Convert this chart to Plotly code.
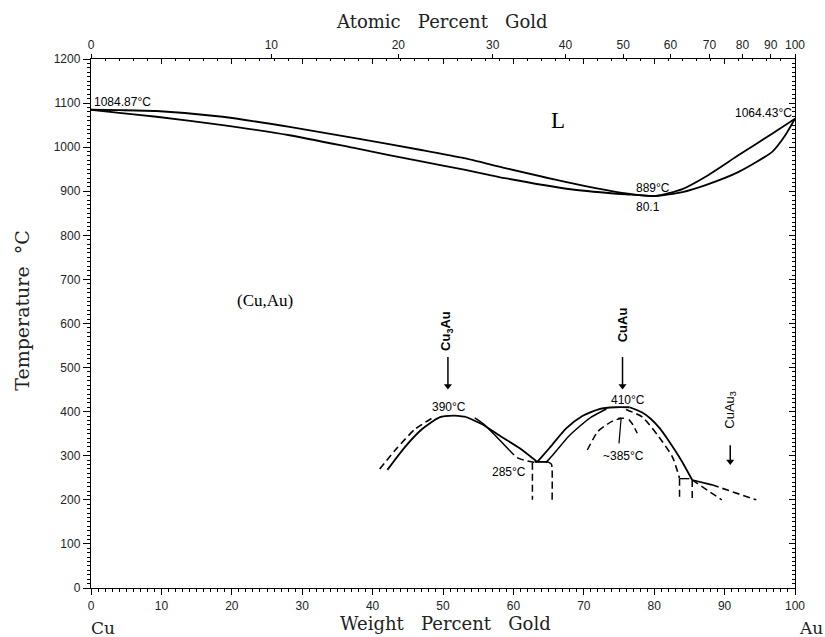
import plotly.graph_objects as go

# ---------------- data (weight % Au, temperature °C) ----------------
liq_x = [0, 4, 9.3, 18.7, 28.2, 37.7, 47.1, 53, 59, 68.4, 76, 80.1, 84, 87.3, 92, 96.8, 100]
liq_T = [1084.87, 1084, 1082, 1069, 1046, 1020, 993, 975, 952, 918, 895, 889, 905, 933, 982, 1031, 1064.43]
sol_x = [0, 4, 9.3, 18.7, 28.2, 37.7, 47.1, 53, 59, 68.4, 76, 80.1, 84, 87.3, 92, 96.8, 98.5, 100]
sol_T = [1084.87, 1078, 1069, 1050, 1027, 997, 967, 949, 929, 904, 893, 889, 898, 914, 944, 990, 1024, 1064.43]

# Cu3Au ordering dome
c3_left_x = [42.1, 44.5, 47, 49.5, 51.5, 53.3]
c3_left_T = [268, 318, 360, 387, 391, 388]
c3_left_dash_x = [41, 43.5, 46, 48.5]
c3_left_dash_T = [270, 318, 360, 386]
c3_right_x = [53.3, 55.5, 58.4, 60.9, 63.4]
c3_right_T = [388, 372, 342, 317, 286]
c3_inner_x = [54.5, 55.6, 57.5, 59.4]
c3_inner_T = [386, 374, 345, 313]
c3_inner_dash_x = [59.4, 60.5, 62, 63.3]
c3_inner_dash_T = [313, 296, 288, 284]

# 285 °C peritectoid box
box_top_x = [63.0, 64.9]
box_top_T = [286, 286]
box_left_x = [62.7, 62.7]
box_left_T = [284, 200]
box_right_x = [64.9, 65.4, 65.5, 65.5]
box_right_T = [286, 281, 270, 200]

# CuAu ordering dome
cuau_outer_x = [63.4, 65.1, 67.5, 69.8, 72.2, 74.5, 76.5]
cuau_outer_T = [286, 317, 362, 390, 406, 410, 410]
cuau_inner_x = [64.6, 65.5, 67.9, 70.8, 73.2]
cuau_inner_T = [284, 300, 345, 385, 406]
cuau_right_x = [76.5, 78.3, 79.5, 80.8, 82.1, 83.8, 85.4]
cuau_right_T = [410, 398, 384, 362, 333, 291, 245]
cuau_right_dash_x = [76, 78.3, 80.7, 82.6, 83.6]
cuau_right_dash_T = [405, 388, 342, 297, 249]

# ~385 °C inner dome
in_left_x = [70.5, 72, 74, 75.3]
in_left_T = [313, 355, 378, 385]
in_right_x = [76.4, 76.9, 77.6]
in_right_T = [382, 372, 351]
in_mark_x = [74.9, 75.7]
in_mark_T = [385, 385]
in_ptr_x = [75.0, 75.3]
in_ptr_T = [328, 385]

# CuAu3 side
tail_solid_x = [85.4, 88.2]
tail_solid_T = [245, 234]
tail_dash1_x = [88.2, 94.5]
tail_dash1_T = [234, 200]
tail_dash2_x = [85.4, 89.6]
tail_dash2_T = [245, 200]
vline1_x = [83.6, 83.6]
vline1_T = [248, 200]
vcap_x = [83.6, 85.0]
vcap_T = [248, 248]
vline2_x = [85.4, 85.4]
vline2_T = [245, 200]

# phase arrows (x, tail T, head T)
arrow_x = [50.7, 75.5, 90.8]
arrow_tail = [524, 524, 324]
arrow_head = [458, 458, 287]

# axis ticks
wt_ticks = list(range(0, 101, 10))
at_ticks = list(range(0, 101, 10))
T_ticks = list(range(0, 1201, 100))
M_AU, M_CU = 196.97, 63.546
at_pos = [a * M_AU / (a * M_AU + (100 - a) * M_CU) * 100 for a in at_ticks]

fig = go.Figure()
DASH = "7px,4px"

def line(x, y, dash="solid", w=1.8, shape="spline"):
    fig.add_trace(go.Scatter(x=x, y=y, mode="lines",
                             line=dict(color="black", width=w, dash=dash, shape=shape, smoothing=0.6),
                             hoverinfo="skip", showlegend=False))

line(liq_x, liq_T)
line(sol_x, sol_T)
line(c3_left_x, c3_left_T)
line(c3_left_dash_x, c3_left_dash_T, DASH, 1.6)
line(c3_right_x, c3_right_T)
line(c3_inner_x, c3_inner_T, w=1.5)
line(c3_inner_dash_x, c3_inner_dash_T, DASH, 1.5)
line(box_top_x, box_top_T, shape="linear")
line(box_left_x, box_left_T, DASH, 1.5, "linear")
line(box_right_x, box_right_T, DASH, 1.5)
line(cuau_outer_x, cuau_outer_T)
line(cuau_inner_x, cuau_inner_T, w=1.5)
line(cuau_right_x, cuau_right_T)
line(cuau_right_dash_x, cuau_right_dash_T, DASH, 1.6)
line(in_left_x, in_left_T, DASH, 1.5)
line(in_right_x, in_right_T, DASH, 1.5)
line(in_mark_x, in_mark_T, w=1.5, shape="linear")
line(in_ptr_x, in_ptr_T, w=1.2, shape="linear")
line(tail_solid_x, tail_solid_T, shape="linear")
line(tail_dash1_x, tail_dash1_T, DASH, 1.6, "linear")
line(tail_dash2_x, tail_dash2_T, DASH, 1.5, "linear")
line(vline1_x, vline1_T, DASH, 1.5, "linear")
line(vcap_x, vcap_T, w=1.3, shape="linear")
line(vline2_x, vline2_T, DASH, 1.5, "linear")

# arrows drawn as line + triangle marker
for xa, t0, t1 in zip(arrow_x, arrow_tail, arrow_head):
    fig.add_trace(go.Scatter(x=[xa, xa], y=[t0, t1], mode="lines", line=dict(color="black", width=1.5),
                             hoverinfo="skip", showlegend=False))
fig.add_trace(go.Scatter(x=arrow_x, y=arrow_head, mode="markers",
                         marker=dict(symbol="triangle-down", size=7, color="black"),
                         hoverinfo="skip", showlegend=False))

# placeholder traces so the overlay axes (top atomic %, inner top/right ticks) are drawn
fig.add_trace(go.Scatter(x=[None], y=[None], xaxis="x2", showlegend=False, hoverinfo="skip"))
fig.add_trace(go.Scatter(x=[None], y=[None], xaxis="x3", showlegend=False, hoverinfo="skip"))
fig.add_trace(go.Scatter(x=[None], y=[None], yaxis="y2", showlegend=False, hoverinfo="skip"))

lab = dict(family="Liberation Sans", size=12, color="black")
ann = []
def txt(x, y, t, font=lab, xanchor="center", angle=0):
    ann.append(dict(x=x, y=y, xref="x", yref="y", text=t, showarrow=False, font=font,
                    xanchor=xanchor, yanchor="middle", textangle=angle))

txt(0.2, 1102, "1084.87°C", xanchor="left")
txt(99.8, 1078, "1064.43°C", xanchor="right")
txt(79.8, 908, "889°C")
txt(79.1, 865, "80.1")
txt(66.3, 1060, "L", font=dict(family="Liberation Serif", size=23, color="black"))
txt(24.7, 653, "(Cu,Au)", font=dict(family="Liberation Serif", size=17, color="black"))
txt(50.8, 411, "390°C")
txt(76.3, 426, "410°C")
txt(59.4, 263, "285°C")
txt(75.6, 299, "~385°C")
txt(50.5, 582, "<b>Cu<sub>3</sub>Au</b>", font=dict(family="Liberation Sans", size=13, color="black"), angle=-90)
txt(75.5, 597, "<b>CuAu</b>", font=dict(family="Liberation Sans", size=13, color="black"), angle=-90)
txt(90.8, 405, "CuAu<sub>3</sub>", font=dict(family="Liberation Sans", size=13, color="black"), angle=-90)

titlef = dict(family="DejaVu Serif", size=18, color="#222")
ann.append(dict(x=0.499, y=1.07, xref="paper", yref="paper", text="Atomic   Percent   Gold", showarrow=False,
                font=titlef, xanchor="center", yanchor="middle"))
ann.append(dict(x=0.503, y=-0.068, xref="paper", yref="paper", text="Weight   Percent   Gold", showarrow=False,
                font=titlef, xanchor="center", yanchor="middle"))
ann.append(dict(x=-0.098, y=0.524, xref="paper", yref="paper", text="Temperature  °C", showarrow=False,
                font=dict(family="DejaVu Serif", size=19, color="#222"), xanchor="center", yanchor="middle",
                textangle=-90))
ann.append(dict(x=0.017, y=-0.076, xref="paper", yref="paper", text="Cu", showarrow=False,
                font=dict(family="DejaVu Serif", size=17, color="#222"), xanchor="center", yanchor="middle"))
ann.append(dict(x=1.023, y=-0.076, xref="paper", yref="paper", text="Au", showarrow=False,
                font=dict(family="DejaVu Serif", size=17, color="#222"), xanchor="center", yanchor="middle"))

tickf = dict(family="Liberation Sans", size=12, color="#222")
fig.update_layout(
    width=825, height=637,
    margin=dict(l=91, r=30, t=59, b=49),
    paper_bgcolor="white", plot_bgcolor="white",
    showlegend=False,
    annotations=ann,
    xaxis=dict(range=[0, 100], tickvals=wt_ticks, ticktext=[str(v) for v in wt_ticks],
               ticks="outside", ticklen=6, tickwidth=1.2, tickcolor="black",
               minor=dict(dtick=1, ticks="outside", ticklen=3, tickcolor="black", tickwidth=1),
               showline=True, linecolor="black", linewidth=1.4, mirror=True,
               showgrid=False, zeroline=False, tickfont=tickf, fixedrange=True),
    xaxis2=dict(range=[0, 100], overlaying="x", side="top", anchor="y",
                tickvals=at_pos, ticktext=[str(v) for v in at_ticks],
                ticks="outside", ticklen=4, tickcolor="black", tickwidth=1,
                showline=False, showgrid=False, zeroline=False, tickfont=tickf),
    xaxis3=dict(range=[0, 100], overlaying="x", side="top", anchor="y",
                tickvals=wt_ticks, showticklabels=False,
                ticks="inside", ticklen=5, tickcolor="black", tickwidth=1.2,
                minor=dict(dtick=2, ticks="inside", ticklen=2, tickcolor="black"),
                showline=False, showgrid=False, zeroline=False),
    yaxis=dict(range=[0, 1200], tickvals=T_ticks, ticktext=[str(v) for v in T_ticks],
               ticks="outside", ticklen=7, tickwidth=1.2, tickcolor="black",
               minor=dict(dtick=10, ticks="outside", ticklen=3, tickcolor="black", tickwidth=1),
               showline=True, linecolor="black", linewidth=1.4, mirror=True,
               showgrid=False, zeroline=False, tickfont=tickf, fixedrange=True),
    yaxis2=dict(range=[0, 1200], overlaying="y", side="right", anchor="x",
                tickvals=T_ticks, showticklabels=False,
                ticks="inside", ticklen=6, tickcolor="black", tickwidth=1.2,
                minor=dict(dtick=10, ticks="inside", ticklen=3, tickcolor="black"),
                showline=False, showgrid=False, zeroline=False),
)

fig.write_html("out.html")
